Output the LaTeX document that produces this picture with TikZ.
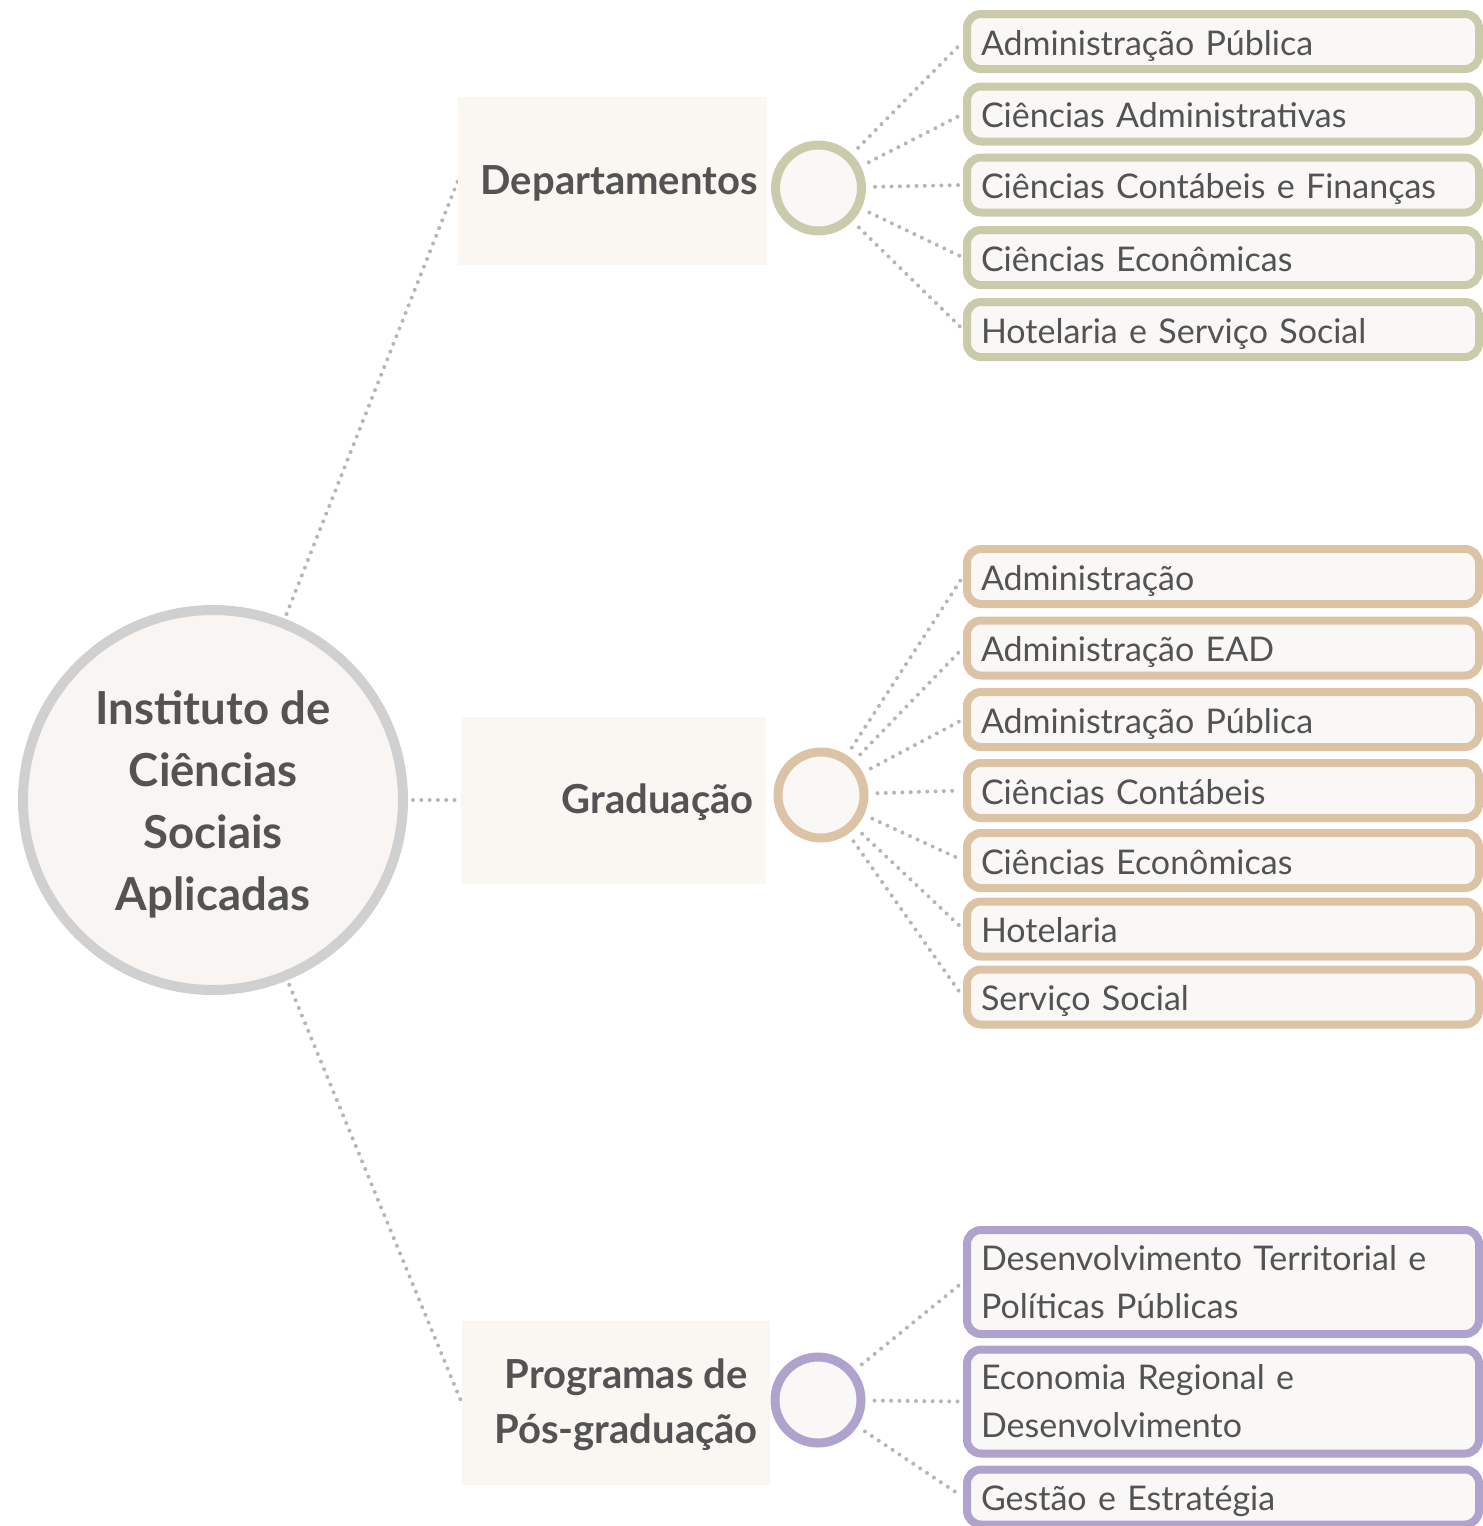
\documentclass[tikz,border=0pt]{standalone}
\usepackage{fontspec}
\setmainfont{Lato}
\usetikzlibrary{backgrounds}
\definecolor{txt}{HTML}{535353}
\definecolor{leaffill}{HTML}{F9F8F6}
\definecolor{catfill}{HTML}{FAF7F3}
\definecolor{rootfill}{HTML}{F8F5F2}
\definecolor{rootgray}{HTML}{D0D0D0}
\definecolor{olive}{HTML}{C9CBAA}
\definecolor{tan}{HTML}{DCC3A6}
\definecolor{lav}{HTML}{AFA2CC}
\definecolor{dotgray}{HTML}{B6B6B6}
\begin{document}
\begin{tikzpicture}[x=1pt,y=-1pt,
  leaf/.style={draw, line width=8pt, rounded corners=14pt, fill=leaffill,
    minimum width=512pt, text width=484pt, inner xsep=14pt, inner ysep=0pt,
    minimum height=55pt, align=left, font=\fontsize{34}{48}\selectfont, text=txt},
  leafone/.style={leaf, text height=32pt, text depth=5pt},
  leaftwo/.style={leaf, minimum height=104pt},
  catbox/.style={fill=catfill, inner sep=0pt},
  cattext/.style={font=\bfseries\fontsize{40}{55}\selectfont, text=txt, align=center, inner sep=0pt, anchor=east},
  hub/.style={circle, draw, line width=9pt, minimum size=86pt, inner sep=0pt, fill=leaffill},
  dotline/.style={draw=dotgray, line width=4pt, line cap=round, dash pattern=on 0pt off 8.3pt},
  hubline/.style={dotline, shorten <=9pt, shorten >=4pt}
]
\useasboundingbox (0,0) rectangle (1483,1526);

% root
\node[circle, draw=rootgray, line width=10pt, minimum size=380pt, fill=rootfill, inner sep=0pt]
  (root) at (213,800) {};
\node[align=center, inner sep=0pt, text=txt, font=\bfseries\fontsize{45.5}{62}\selectfont]
  (rootlabel) at (213,804) {Instituto de\\Ciências\\Sociais\\Aplicadas};

% category boxes
\node[catbox, minimum width=309pt, minimum height=168pt] (dept) at (612.5,181) {};
\node[catbox, minimum width=305pt, minimum height=167pt] (grad) at (613.5,800) {};
\node[catbox, minimum width=308pt, minimum height=164pt] (pos) at (616,1403) {};
\node[cattext] (deptt) at (758,183) {Departamentos};
\node[cattext] (gradt) at (754,802) {Graduação};
\node[cattext] (post) at (758,1405) {Programas de\\Pós-graduação};

% hubs
\node[hub, draw=olive] (h1) at (818.5,188) {};
\node[hub, draw=tan] (h2) at (821,795) {};
\node[hub, draw=lav] (h3) at (818,1400) {};

% Departamentos leaves
\node[leafone, draw=olive] (d1) at (1223,41.5) {Administração Pública};
\node[leafone, draw=olive] (d2) at (1223,114) {Ciências Administrativas};
\node[leafone, draw=olive] (d3) at (1223,185) {Ciências Contábeis e Finanças};
\node[leafone, draw=olive] (d4) at (1223,257.5) {Ciências Econômicas};
\node[leafone, draw=olive] (d5) at (1223,329.5) {Hotelaria e Serviço Social};

% Graduacao leaves
\node[leafone, draw=tan] (g1) at (1223,576.5) {Administração};
\node[leafone, draw=tan] (g2) at (1223,648) {Administração EAD};
\node[leafone, draw=tan] (g3) at (1223,719.5) {Administração Pública};
\node[leafone, draw=tan] (g4) at (1223,790.5) {Ciências Contábeis};
\node[leafone, draw=tan] (g5) at (1223,860.5) {Ciências Econômicas};
\node[leafone, draw=tan] (g6) at (1223,929) {Hotelaria};
\node[leafone, draw=tan] (g7) at (1223,997) {Serviço Social};

% Pos leaves
\node[leaftwo, draw=lav] (p1) at (1223,1282) {Desenvolvimento Territorial e\\Políticas Públicas};
\node[leaftwo, draw=lav] (p2) at (1223,1401.5) {Economia Regional e\\Desenvolvimento};
\node[leafone, draw=lav] (p3) at (1223,1497) {Gestão e Estratégia};

\begin{scope}[on background layer]
  \draw[dotline, shorten <=5pt] (root) -- (dept.west);
  \draw[dotline, shorten <=5pt] (root) -- (grad.west);
  \draw[dotline, shorten <=5pt] (root) -- (pos.west);
  \foreach \n in {d1,d2,d3,d4,d5} \draw[hubline] (h1) -- (\n.west);
  \foreach \n in {g1,g2,g3,g4,g5,g6,g7} \draw[hubline] (h2) -- (\n.west);
  \foreach \n in {p1,p2,p3} \draw[hubline] (h3) -- (\n.west);
\end{scope}
\end{tikzpicture}
\end{document}
